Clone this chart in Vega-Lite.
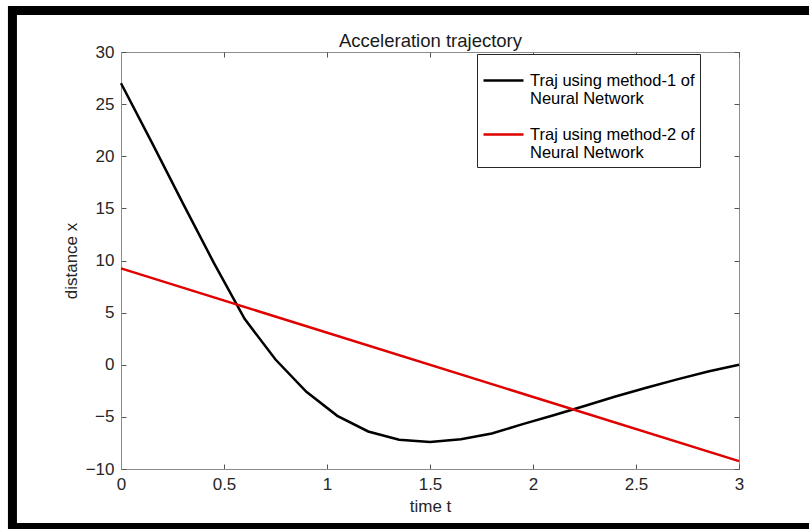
{
  "$schema": "https://vega.github.io/schema/vega-lite/v6.json",
  "width": 618,
  "height": 417,
  "autosize": {"type": "none"},
  "padding": {"left": 121, "top": 52, "right": 70, "bottom": 60},
  "background": "white",
  "config": {
    "font": "Liberation Sans",
    "view": {"stroke": "#8c8c8c", "strokeWidth": 1},
    "axis": {
      "labelFont": "Liberation Sans",
      "titleFont": "Liberation Sans",
      "labelFontSize": 17,
      "titleFontSize": 17,
      "titleFontWeight": "normal",
      "labelColor": "#262626",
      "titleColor": "#262626",
      "tickColor": "#555555",
      "domainColor": "#8c8c8c",
      "grid": false,
      "tickSize": -5,
      "labelFlush": false
    }
  },
  "data": {
    "values": [
      {"t": 0.0, "value": 27.0, "series": "Traj using method-1 of Neural Network"},
      {"t": 0.15, "value": 21.3, "series": "Traj using method-1 of Neural Network"},
      {"t": 0.3, "value": 15.5, "series": "Traj using method-1 of Neural Network"},
      {"t": 0.45, "value": 9.8, "series": "Traj using method-1 of Neural Network"},
      {"t": 0.6, "value": 4.4, "series": "Traj using method-1 of Neural Network"},
      {"t": 0.75, "value": 0.5, "series": "Traj using method-1 of Neural Network"},
      {"t": 0.9, "value": -2.6, "series": "Traj using method-1 of Neural Network"},
      {"t": 1.05, "value": -4.9, "series": "Traj using method-1 of Neural Network"},
      {"t": 1.2, "value": -6.4, "series": "Traj using method-1 of Neural Network"},
      {"t": 1.35, "value": -7.2, "series": "Traj using method-1 of Neural Network"},
      {"t": 1.5, "value": -7.4, "series": "Traj using method-1 of Neural Network"},
      {"t": 1.65, "value": -7.15, "series": "Traj using method-1 of Neural Network"},
      {"t": 1.8, "value": -6.6, "series": "Traj using method-1 of Neural Network"},
      {"t": 1.95, "value": -5.7, "series": "Traj using method-1 of Neural Network"},
      {"t": 2.1, "value": -4.85, "series": "Traj using method-1 of Neural Network"},
      {"t": 2.25, "value": -3.95, "series": "Traj using method-1 of Neural Network"},
      {"t": 2.4, "value": -3.05, "series": "Traj using method-1 of Neural Network"},
      {"t": 2.55, "value": -2.2, "series": "Traj using method-1 of Neural Network"},
      {"t": 2.7, "value": -1.4, "series": "Traj using method-1 of Neural Network"},
      {"t": 2.85, "value": -0.65, "series": "Traj using method-1 of Neural Network"},
      {"t": 3.0, "value": 0.0, "series": "Traj using method-1 of Neural Network"},
      {"t": 0.0, "value": 9.25, "series": "Traj using method-2 of Neural Network"},
      {"t": 3.0, "value": -9.25, "series": "Traj using method-2 of Neural Network"}
    ]
  },
  "layer": [
    {
      "data": {"values": [{}]},
      "mark": {"type": "rect", "fillOpacity": 0, "stroke": "black", "strokeWidth": 9, "clip": false},
      "encoding": {
        "x": {"datum": -0.527, "type": "quantitative", "scale": {"domain": [0, 3], "nice": false}, "axis": null},
        "x2": {"datum": 3.5},
        "y": {"datum": 33.98, "type": "quantitative", "scale": {"domain": [-10, 30], "nice": false}, "axis": null},
        "y2": {"datum": -15.6}
      }
    },
    {
      "mark": {"type": "line", "strokeWidth": 2.5},
      "encoding": {
        "x": {
          "field": "t", "type": "quantitative",
          "scale": {"domain": [0, 3], "nice": false},
          "axis": {"orient": "bottom", "values": [0, 0.5, 1, 1.5, 2, 2.5, 3], "format": "~g", "title": "time t", "labelPadding": 12, "titlePadding": 6}
        },
        "y": {
          "field": "value", "type": "quantitative",
          "scale": {"domain": [-10, 30], "nice": false},
          "axis": {"orient": "left", "values": [-10, -5, 0, 5, 10, 15, 20, 25, 30], "title": "distance x", "labelPadding": 12, "titlePadding": 5}
        },
        "color": {
          "field": "series", "type": "nominal",
          "scale": {"domain": ["Traj using method-1 of Neural Network", "Traj using method-2 of Neural Network"], "range": ["#000000", "#e00000"]},
          "legend": {
            "title": null,
            "orient": "none",
            "legendX": 356,
            "legendY": 2,
            "strokeColor": "#262626",
            "fillColor": "white",
            "padding": 5,
            "symbolType": "stroke",
            "symbolSize": 1600,
            "symbolStrokeWidth": 2.5,
            "labelFont": "Liberation Sans",
            "labelFontSize": 16.5,
            "labelColor": "#000000",
            "labelLineHeight": 18,
            "labelLimit": 400,
            "labelOffset": 5,
            "rowPadding": 5,
            "labelExpr": "[slice(datum.label, 0, 22), slice(datum.label, 23)]"
          }
        }
      }
    },
    {
      "mark": {"type": "line", "opacity": 0},
      "encoding": {
        "x": {
          "field": "t", "type": "quantitative",
          "scale": {"domain": [0, 3], "nice": false},
          "axis": {"orient": "top", "values": [0, 0.5, 1, 1.5, 2, 2.5, 3], "labels": false, "title": "Acceleration trajectory", "titleFontSize": 18.5, "titleColor": "#1a1a1a", "titlePadding": 1, "domain": false}
        },
        "y": {
          "field": "value", "type": "quantitative",
          "scale": {"domain": [-10, 30], "nice": false},
          "axis": {"orient": "right", "values": [-10, -5, 0, 5, 10, 15, 20, 25, 30], "labels": false, "title": null, "domain": false}
        },
        "detail": {"field": "series"}
      }
    }
  ],
  "resolve": {"axis": {"x": "independent", "y": "independent"}}
}
